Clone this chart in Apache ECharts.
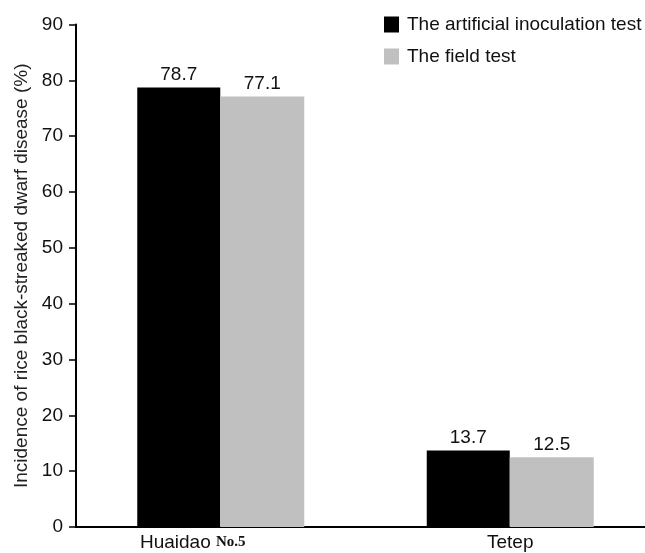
<!DOCTYPE html>
<html>
<head>
<meta charset="utf-8">
<script src="https://cdn.jsdelivr.net/npm/echarts@6/dist/echarts.min.js"></script>
<style>
  html, body { margin: 0; padding: 0; background: #fff; }
  #chart { width: 645px; height: 553px; }
</style>
</head>
<body>
<div id="chart"></div>
<script>
// data
const varieties = ['Huaidao No.5', 'Tetep'];
const inoculationTest = [78.7, 13.7];
const fieldTest = [77.1, 12.5];
const seriesNames = ['The artificial inoculation test', 'The field test'];

const chart = echarts.init(document.getElementById('chart'));
const font = 'Liberation Sans, Arial, sans-serif';

const option = {
  animation: false,
  backgroundColor: '#fff',
  textStyle: { fontFamily: font },
  // x axis runs a little past the right edge in the original figure
  grid: { left: 76, right: -10, top: 24.5, bottom: 26, containLabel: false, outerBoundsMode: 'none' },
  legend: {
    orient: 'vertical',
    left: 379,
    top: 10,
    itemWidth: 15,
    itemHeight: 16,
    itemGap: 13,
    icon: 'rect',
    textStyle: { fontSize: 19, color: '#111', fontFamily: font, padding: [0, 0, 0, 3] },
    data: seriesNames
  },
  xAxis: {
    type: 'category',
    data: varieties,
    axisLine: { lineStyle: { color: '#000', width: 2 } },
    axisTick: { show: false },
    axisLabel: {
      margin: 6,
      fontSize: 19,
      color: '#111',
      formatter: function (v) {
        if (v === 'Huaidao No.5') return '{a|Huaidao }{b|No.5}{c|}';
        return v;
      },
      rich: {
        a: { fontSize: 19, color: '#111', fontFamily: font },
        b: { fontSize: 15, color: '#111', fontWeight: 'bold', fontFamily: 'Liberation Serif, serif' },
        c: { width: 56 }
      }
    }
  },
  yAxis: {
    type: 'value',
    min: 0,
    max: 90,
    interval: 10,
    name: 'Incidence of rice black-streaked dwarf disease (%)',
    nameLocation: 'middle',
    nameGap: 45,
    nameTextStyle: { fontSize: 19, color: '#222', fontFamily: font },
    axisLine: { show: true, lineStyle: { color: '#000', width: 2 } },
    axisTick: { show: true, length: 7, lineStyle: { color: '#000', width: 1.5 } },
    axisLabel: { fontSize: 19, color: '#111', margin: 13 },
    splitLine: { show: false }
  },
  series: [
    {
      name: seriesNames[0],
      type: 'bar',
      data: inoculationTest,
      barWidth: 83,
      barGap: '0%',
      itemStyle: { color: '#000' },
      label: { show: true, position: 'top', distance: 3, fontSize: 19, color: '#111' }
    },
    {
      name: seriesNames[1],
      type: 'bar',
      data: fieldTest,
      barWidth: 84,
      itemStyle: { color: '#c0c0c0' },
      label: { show: true, position: 'top', distance: 3, fontSize: 19, color: '#111' }
    }
  ]
};

chart.setOption(option);
</script>
</body>
</html>
